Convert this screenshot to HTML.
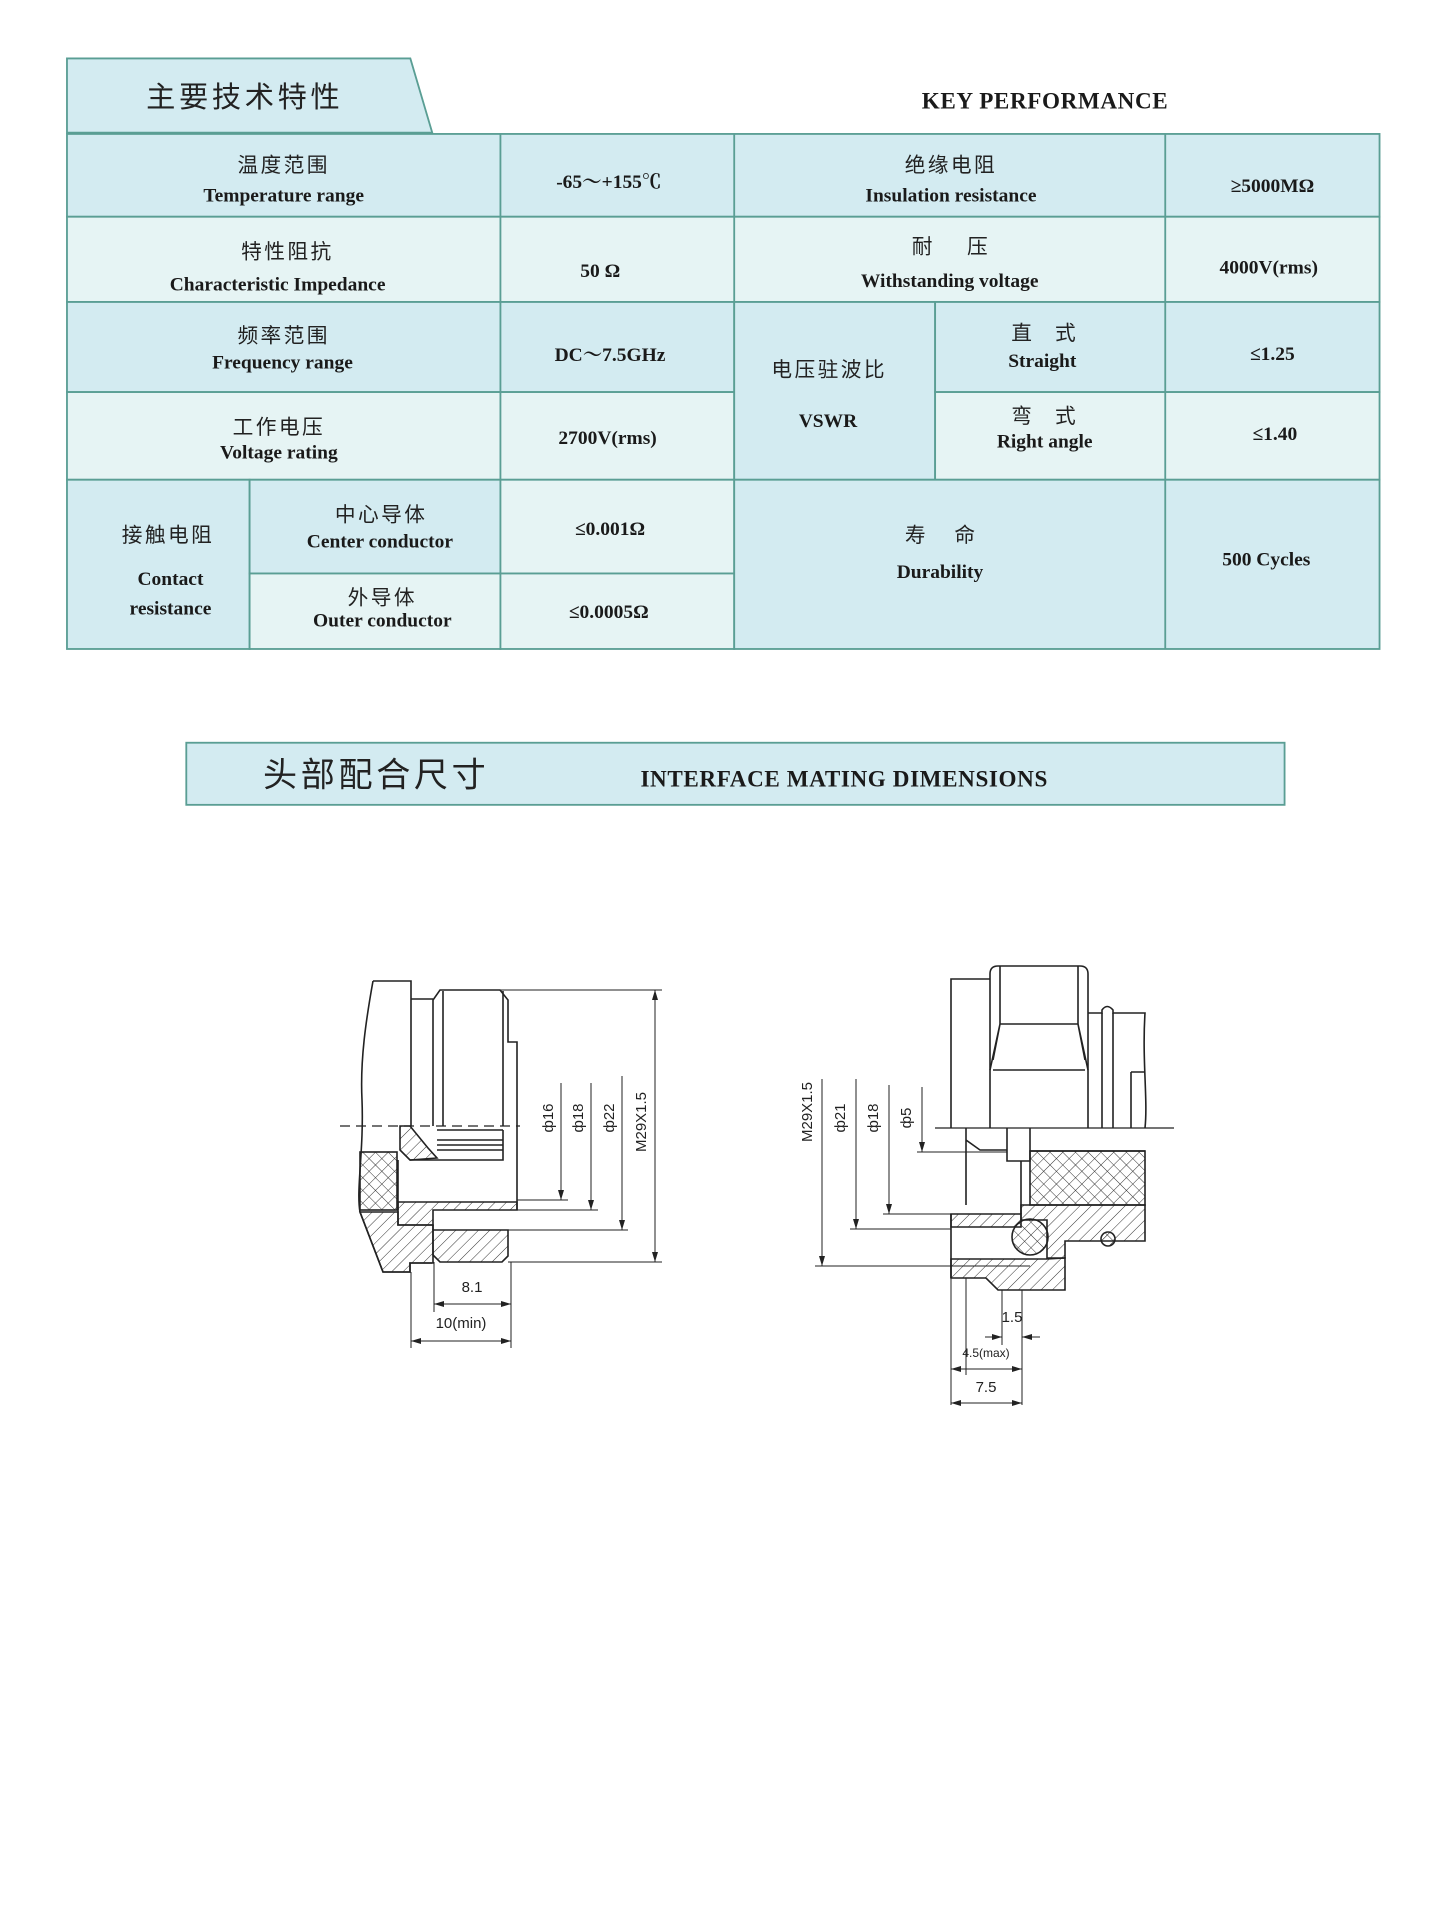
<!DOCTYPE html>
<html><head><meta charset="utf-8"><style>
html,body{margin:0;padding:0;background:#fff;}
svg{display:block;}
.zh{font-family:"Liberation Sans","Noto Sans CJK SC",sans-serif;fill:#222;}
.en{font-family:"Liberation Serif","Noto Serif CJK SC",serif;font-weight:bold;fill:#1a1a1a;}
.dl{font-family:"Liberation Sans",sans-serif;fill:#222;font-size:15px;}
</style></head><body>
<svg width="1449" height="1914" viewBox="0 0 1449 1914" xmlns="http://www.w3.org/2000/svg">
<defs>
<pattern id="h" width="8" height="8" patternUnits="userSpaceOnUse" patternTransform="rotate(45)"><line x1="0" y1="0" x2="0" y2="8" stroke="#333" stroke-width="1"/></pattern>
<pattern id="x" width="9" height="9" patternUnits="userSpaceOnUse" patternTransform="rotate(45)"><path d="M0 0V9M0 0H9" stroke="#333" stroke-width="1" fill="none"/></pattern>
<marker id="a" markerWidth="10" markerHeight="6" refX="10" refY="3" orient="auto" markerUnits="userSpaceOnUse"><path d="M0 0L10 3L0 6z" fill="#222"/></marker>
</defs>
<g transform="scale(1.2176)">
<polygon points="55,48 337,48 355,109 55,109" fill="#d3ebf1" stroke="#5a9e94" stroke-width="1.5"/>
<text class="zh" x="120" y="88" font-size="24" letter-spacing="3">主要技术特性</text>
<text class="en" x="757" y="89" font-size="19" letter-spacing="0.5">KEY PERFORMANCE</text>
<g stroke="#5a9e94" stroke-width="1.5">
<rect x="55" y="110" width="1078" height="68" fill="#d3ebf1"/>
<rect x="55" y="178" width="1078" height="70" fill="#e6f4f4"/>
<rect x="55" y="248" width="548" height="74" fill="#d3ebf1"/>
<rect x="55" y="322" width="548" height="72" fill="#e6f4f4"/>
<rect x="603" y="248" width="165" height="146" fill="#d3ebf1"/>
<rect x="768" y="248" width="365" height="74" fill="#d3ebf1"/>
<rect x="768" y="322" width="365" height="72" fill="#e6f4f4"/>
<rect x="55" y="394" width="150" height="139" fill="#d3ebf1"/>
<rect x="205" y="394" width="206" height="77" fill="#d3ebf1"/>
<rect x="411" y="394" width="192" height="77" fill="#e6f4f4"/>
<rect x="205" y="471" width="206" height="62" fill="#e6f4f4"/>
<rect x="411" y="471" width="192" height="62" fill="#e6f4f4"/>
<rect x="603" y="394" width="530" height="139" fill="#d3ebf1"/>
<line x1="411" y1="110" x2="411" y2="394"/>
<line x1="603" y1="110" x2="603" y2="248"/>
<line x1="957" y1="110" x2="957" y2="533"/>
</g>
<g text-anchor="middle" dominant-baseline="central">
<text class="zh" x="233" y="136" font-size="17" letter-spacing="2">温度范围</text>
<text class="en" x="233" y="161" font-size="16">Temperature range</text>
<text class="en" x="500" y="150" font-size="16">-65～+155℃</text>
<text class="zh" x="781" y="136" font-size="17" letter-spacing="2">绝缘电阻</text>
<text class="en" x="781" y="161" font-size="16">Insulation resistance</text>
<text class="en" x="1045" y="153" font-size="16">≥5000MΩ</text>
<text class="zh" x="236" y="207" font-size="17" letter-spacing="2">特性阻抗</text>
<text class="en" x="228" y="234" font-size="16">Characteristic Impedance</text>
<text class="en" x="493" y="223" font-size="16">50  Ω</text>
<text class="zh" x="780" y="203" font-size="17" xml:space="preserve">耐      压</text>
<text class="en" x="780" y="231" font-size="16">Withstanding voltage</text>
<text class="en" x="1042" y="220" font-size="16">4000V(rms)</text>
<text class="zh" x="233" y="276" font-size="17" letter-spacing="2">频率范围</text>
<text class="en" x="232" y="298" font-size="16">Frequency range</text>
<text class="en" x="501" y="292" font-size="16">DC～7.5GHz</text>
<text class="zh" x="681" y="304" font-size="17" letter-spacing="2">电压驻波比</text>
<text class="en" x="680" y="346" font-size="16">VSWR</text>
<text class="zh" x="857" y="274" font-size="17" xml:space="preserve">直    式</text>
<text class="en" x="856" y="297" font-size="16">Straight</text>
<text class="en" x="1045" y="291" font-size="16">≤1.25</text>
<text class="zh" x="229" y="351" font-size="17" letter-spacing="2">工作电压</text>
<text class="en" x="229" y="372" font-size="16">Voltage rating</text>
<text class="en" x="499" y="360" font-size="16">2700V(rms)</text>
<text class="zh" x="857" y="342" font-size="17" xml:space="preserve">弯    式</text>
<text class="en" x="858" y="363" font-size="16">Right angle</text>
<text class="en" x="1047" y="357" font-size="16">≤1.40</text>
<text class="zh" x="138" y="440" font-size="17" letter-spacing="2">接触电阻</text>
<text class="en" x="140" y="476" font-size="16">Contact</text>
<text class="en" x="140" y="500" font-size="16">resistance</text>
<text class="zh" x="313" y="423" font-size="17" letter-spacing="2">中心导体</text>
<text class="en" x="312" y="445" font-size="16">Center conductor</text>
<text class="en" x="501" y="435" font-size="16">≤0.001Ω</text>
<text class="zh" x="314" y="491" font-size="17" letter-spacing="2">外导体</text>
<text class="en" x="314" y="510" font-size="16">Outer conductor</text>
<text class="en" x="500" y="503" font-size="16">≤0.0005Ω</text>
<text class="zh" x="772" y="440" font-size="17" xml:space="preserve">寿     命</text>
<text class="en" x="772" y="470" font-size="16">Durability</text>
<text class="en" x="1040" y="460" font-size="16">500 Cycles</text>
</g>
<rect x="153" y="610" width="902" height="51" fill="#d3ebf1" stroke="#5a9e94" stroke-width="1.5"/>
<text class="zh" x="216" y="646" font-size="28" letter-spacing="3">头部配合尺寸</text>
<text class="en" x="526" y="646" font-size="19" letter-spacing="0.5">INTERFACE MATING DIMENSIONS</text>
</g>

<!-- Left drawing -->
<g stroke="#222" stroke-width="1.6" fill="none">
<path d="M373,981 C366,1020 360,1060 362,1100 C364,1150 356,1190 360,1212 L383,1272 L410,1272 L410,1263 L432,1263" />
<path d="M373,981 H411 V1126"/>
<path d="M411,999 H433"/>
<path d="M433,1126 V1000 L440,990 H500 L508,1000 V1042 H517 V1210"/>
<path d="M443,991 V1126 M503,991 V1126"/>
<line x1="340" y1="1126" x2="520" y2="1126" stroke-dasharray="10,6" stroke-width="1.2"/>
<polygon points="400,1126 410,1126 428,1148 437,1158 410,1160 400,1150" fill="url(#h)"/>
<path d="M437,1130 H503 M437,1140 H503 M437,1145 H503 M437,1150 H503 M410,1160 H503 V1130"/>
<rect x="360" y="1152" width="37" height="58" fill="url(#x)"/>
<path d="M398,1160 V1210"/>
<polygon points="398,1202 517,1202 517,1210 433,1210 433,1225 398,1225" fill="url(#h)"/>
<polygon points="360,1212 398,1212 398,1225 433,1225 433,1263 410,1263 410,1272 383,1272" fill="url(#h)"/>
<polygon points="433,1230 508,1230 508,1256 502,1262 440,1262 433,1255" fill="url(#h)"/>
<path d="M433,1225 V1230"/>
</g>
<g stroke="#222" stroke-width="1" fill="none">
<path d="M517,1200 H568 M517,1210 H598 M508,1230 H628 M500,990 H662 M508,1262 H662"/>
<line x1="561" y1="1083" x2="561" y2="1200" marker-end="url(#a)"/>
<line x1="591" y1="1083" x2="591" y2="1210" marker-end="url(#a)"/>
<line x1="622" y1="1076" x2="622" y2="1230" marker-end="url(#a)"/>
<line x1="655" y1="1126" x2="655" y2="990" marker-end="url(#a)"/>
<line x1="655" y1="1126" x2="655" y2="1262" marker-end="url(#a)"/>
<path d="M411,1272 V1348 M434,1262 V1312 M511,1262 V1348"/>
<line x1="472" y1="1304" x2="434" y2="1304" marker-end="url(#a)"/>
<line x1="472" y1="1304" x2="511" y2="1304" marker-end="url(#a)"/>
<line x1="461" y1="1341" x2="411" y2="1341" marker-end="url(#a)"/>
<line x1="461" y1="1341" x2="511" y2="1341" marker-end="url(#a)"/>
</g>
<g class="dl" text-anchor="middle">
<text transform="translate(553,1118) rotate(-90)">ф16</text>
<text transform="translate(583,1118) rotate(-90)">ф18</text>
<text transform="translate(614,1118) rotate(-90)">ф22</text>
<text transform="translate(646,1122) rotate(-90)">M29X1.5</text>
<text x="472" y="1292">8.1</text>
<text x="461" y="1328">10(min)</text>
</g>

<!-- Right drawing -->
<g stroke="#222" stroke-width="1.6" fill="none">
<path d="M951,1128 V979 H990"/>
<path d="M990,1128 V974 Q990,966 998,966 H1080 Q1088,966 1088,974 V1128"/>
<path d="M1000,966 V1024 L993,1060 M1078,966 V1024 L1085,1060 M1000,1024 H1078 M993,1070 H1085 M990,1070 L1000,1024 M1088,1070 L1078,1024"/>
<path d="M1088,1013 H1102 V1010 Q1107,1003 1113,1010 V1013 H1145 C1142,1060 1148,1100 1145,1128"/>
<path d="M1102,1013 V1128 M1113,1013 V1128 M1131,1072 V1128 M1131,1072 H1145"/>
<line x1="935" y1="1128" x2="1174" y2="1128" stroke-width="1.2"/>
<path d="M966,1128 V1205 M966,1140 L980,1150 H1007 V1128 M1007,1128 V1161 H1030 V1128 M1030,1151 H1145"/>
<rect x="1030" y="1151" width="115" height="54" fill="url(#x)"/>
<polygon points="1021,1205 1145,1205 1145,1241 1065,1241 1065,1258 1047,1258 1047,1220 1021,1220" fill="url(#h)"/>
<polygon points="951,1214 1021,1214 1021,1227 951,1227" fill="url(#h)"/>
<polygon points="951,1259 1047,1259 1065,1258 1065,1290 998,1290 986,1278 951,1278" fill="url(#h)"/>
<path d="M951,1214 V1278 M1021,1161 V1214"/>
<circle cx="1030" cy="1237" r="18" fill="url(#x)"/>
<circle cx="1108" cy="1239" r="7" fill="url(#x)"/>
</g>
<g stroke="#222" stroke-width="1" fill="none">
<path d="M917,1152 H1007 M883,1214 H1021 M850,1229 H951 M815,1266 H1030"/>
<line x1="822" y1="1079" x2="822" y2="1266" marker-end="url(#a)"/>
<line x1="856" y1="1079" x2="856" y2="1229" marker-end="url(#a)"/>
<line x1="889" y1="1085" x2="889" y2="1214" marker-end="url(#a)"/>
<line x1="922" y1="1087" x2="922" y2="1152" marker-end="url(#a)"/>
<path d="M951,1278 V1405 M966,1278 V1375 M1002,1290 V1345 M1022,1290 V1405"/>
<line x1="985" y1="1337" x2="1002" y2="1337" marker-end="url(#a)"/>
<line x1="1040" y1="1337" x2="1022" y2="1337" marker-end="url(#a)"/>
<line x1="986" y1="1369" x2="951" y2="1369" marker-end="url(#a)"/>
<line x1="986" y1="1369" x2="1022" y2="1369" marker-end="url(#a)"/>
<line x1="986" y1="1403" x2="951" y2="1403" marker-end="url(#a)"/>
<line x1="986" y1="1403" x2="1022" y2="1403" marker-end="url(#a)"/>
</g>
<g class="dl" text-anchor="middle">
<text transform="translate(812,1112) rotate(-90)">M29X1.5</text>
<text transform="translate(845,1118) rotate(-90)">ф21</text>
<text transform="translate(878,1118) rotate(-90)">ф18</text>
<text transform="translate(911,1118) rotate(-90)">ф5</text>
<text x="1012" y="1322">1.5</text>
<text x="986" y="1357" font-size="12">4.5(max)</text>
<text x="986" y="1392">7.5</text>
</g>
</svg>
</body></html>
